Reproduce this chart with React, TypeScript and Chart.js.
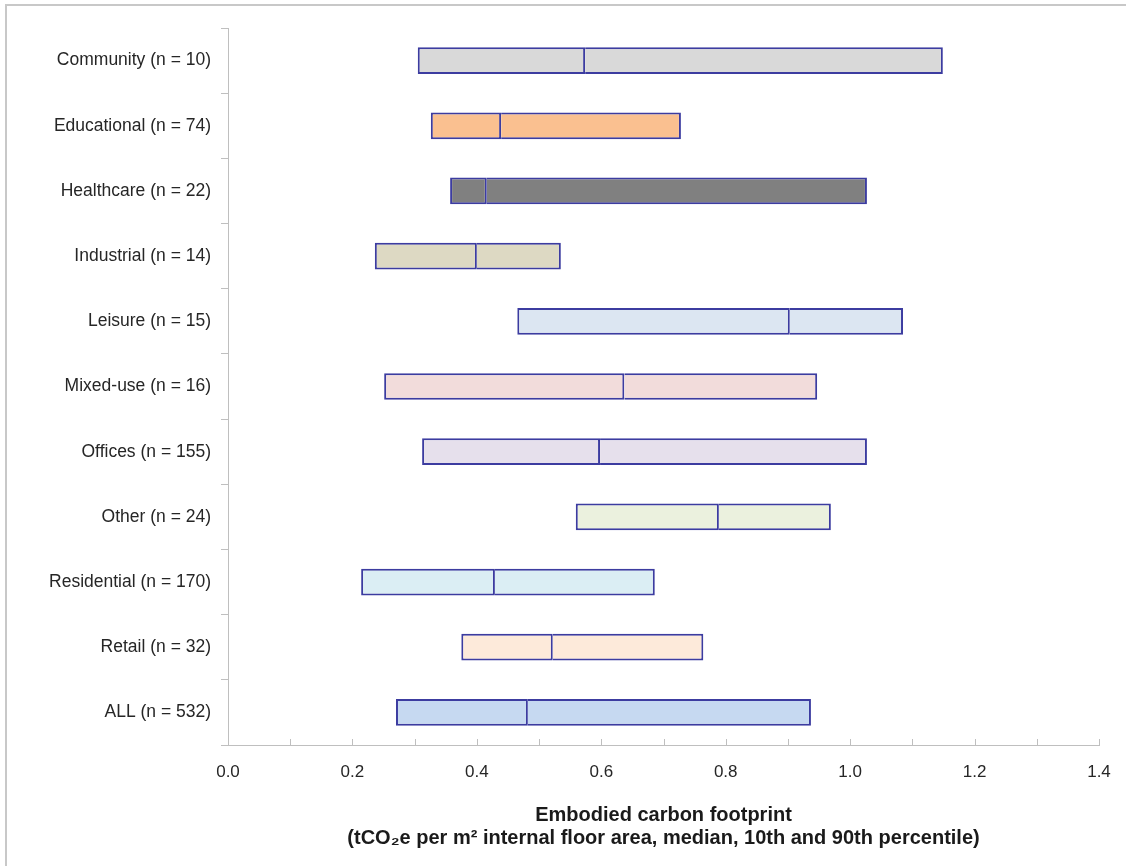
import React, { useEffect, useRef } from "react";
import { Chart, registerables } from "chart.js";

Chart.register(...registerables);

const categories = [
  "Community (n = 10)",
  "Educational (n = 74)",
  "Healthcare (n = 22)",
  "Industrial (n = 14)",
  "Leisure (n = 15)",
  "Mixed-use (n = 16)",
  "Offices (n = 155)",
  "Other (n = 24)",
  "Residential (n = 170)",
  "Retail (n = 32)",
  "ALL (n = 532)",
];
const p10 = [0.305, 0.326, 0.357, 0.236, 0.465, 0.251, 0.312, 0.559, 0.214, 0.375, 0.27];
const median = [0.574, 0.439, 0.416, 0.4, 0.903, 0.637, 0.598, 0.789, 0.429, 0.522, 0.482];
const p90 = [1.149, 0.728, 1.027, 0.535, 1.085, 0.947, 1.027, 0.969, 0.686, 0.764, 0.937];
const fills = [
  "#D9D9D9",
  "#FAC090",
  "#808080",
  "#DDD9C3",
  "#DCE6F2",
  "#F2DCDB",
  "#E6E0EC",
  "#EBF1DE",
  "#DBEEF4",
  "#FDEADA",
  "#C6D9F1",
];
const xTitle = [
  "Embodied carbon footprint",
  "(tCO\u2082e per m\u00B2 internal floor area, median, 10th and 90th percentile)",
];

const EDGE = "#3c3ca0";
const AXIS = "#bfbfbf";

const innerTicks = {
  id: "innerTicks",
  afterDraw(chart: any) {
    const x = chart.scales.x;
    const ctx = chart.ctx;
    const bottom = chart.chartArea.bottom;
    ctx.save();
    ctx.strokeStyle = AXIS;
    ctx.lineWidth = 1;
    x.ticks.forEach((t: any) => {
      const px = Math.round(x.getPixelForValue(t.value)) + 0.5;
      ctx.beginPath();
      ctx.moveTo(px, bottom);
      ctx.lineTo(px, bottom - 6);
      ctx.stroke();
    });
    ctx.restore();
  },
};

export default function App() {
  const ref = useRef<HTMLCanvasElement | null>(null);

  useEffect(() => {
    document.body.style.margin = "0";
    const chart = new Chart(ref.current as HTMLCanvasElement, {
      type: "bar",
      data: {
        labels: categories,
        datasets: [
          {
            label: "10th to median",
            data: categories.map((_, i) => [p10[i], median[i]]) as any,
            backgroundColor: fills,
            borderColor: EDGE,
            borderWidth: { top: 2, bottom: 2, left: 2, right: 2 } as any,
            borderSkipped: false,
            barPercentage: 0.41,
            categoryPercentage: 1,
          },
          {
            label: "median to 90th",
            data: categories.map((_, i) => [median[i], p90[i]]) as any,
            backgroundColor: fills,
            borderColor: EDGE,
            borderWidth: { top: 2, bottom: 2, left: 0, right: 2 } as any,
            borderSkipped: false,
            barPercentage: 0.41,
            categoryPercentage: 1,
          },
        ],
      },
      options: {
        indexAxis: "y",
        animation: false,
        responsive: false,
        layout: { padding: { top: 28, right: 27, bottom: 0, left: 0 } },
        plugins: {
          legend: { display: false },
          tooltip: { enabled: false },
        },
        scales: {
          y: {
            stacked: true,
            afterFit(scale: any) {
              scale.width = 228;
            },
            grid: {
              display: true,
              drawOnChartArea: false,
              drawTicks: true,
              tickLength: 7,
              color: AXIS,
              offset: true,
            },
            border: { display: true, color: AXIS, width: 1 },
            ticks: {
              padding: 10,
              color: "#262626",
              font: { family: "'Liberation Sans', Arial, sans-serif", size: 17.5 },
            },
          },
          x: {
            min: 0,
            max: 1.4,
            afterFit(scale: any) {
              scale.height = 121;
            },
            grid: { display: false },
            border: { display: true, color: AXIS, width: 1 },
            ticks: {
              stepSize: 0.1,
              autoSkip: false,
              maxRotation: 0,
              padding: 9,
              color: "#262626",
              font: { family: "'Liberation Sans', Arial, sans-serif", size: 17 },
              callback: (v: any) => {
                const n = Math.round(Number(v) * 10);
                return n % 2 === 0 ? (n / 10).toFixed(1) : "";
              },
            },
            title: {
              display: true,
              text: xTitle,
              color: "#1a1a1a",
              font: {
                family: "'Liberation Sans', Arial, sans-serif",
                size: 20,
                weight: "bold",
                lineHeight: 1.15,
              },
              padding: { top: 0, bottom: 16.5 },
            },
          },
        },
      },
      plugins: [innerTicks],
    });
    return () => chart.destroy();
  }, []);

  return (
    <div style={{ position: "relative", width: 1126, height: 866, background: "#ffffff" }}>
      <div
        style={{
          position: "absolute",
          left: 5,
          top: 4,
          width: 1121,
          height: 862,
          borderLeft: "2px solid #c8c8c8",
          borderTop: "2px solid #c8c8c8",
          boxSizing: "border-box",
        }}
      />
      <canvas
        ref={ref}
        width={1126}
        height={866}
        style={{ position: "absolute", left: 0, top: 0, display: "block" }}
      />
    </div>
  );
}
